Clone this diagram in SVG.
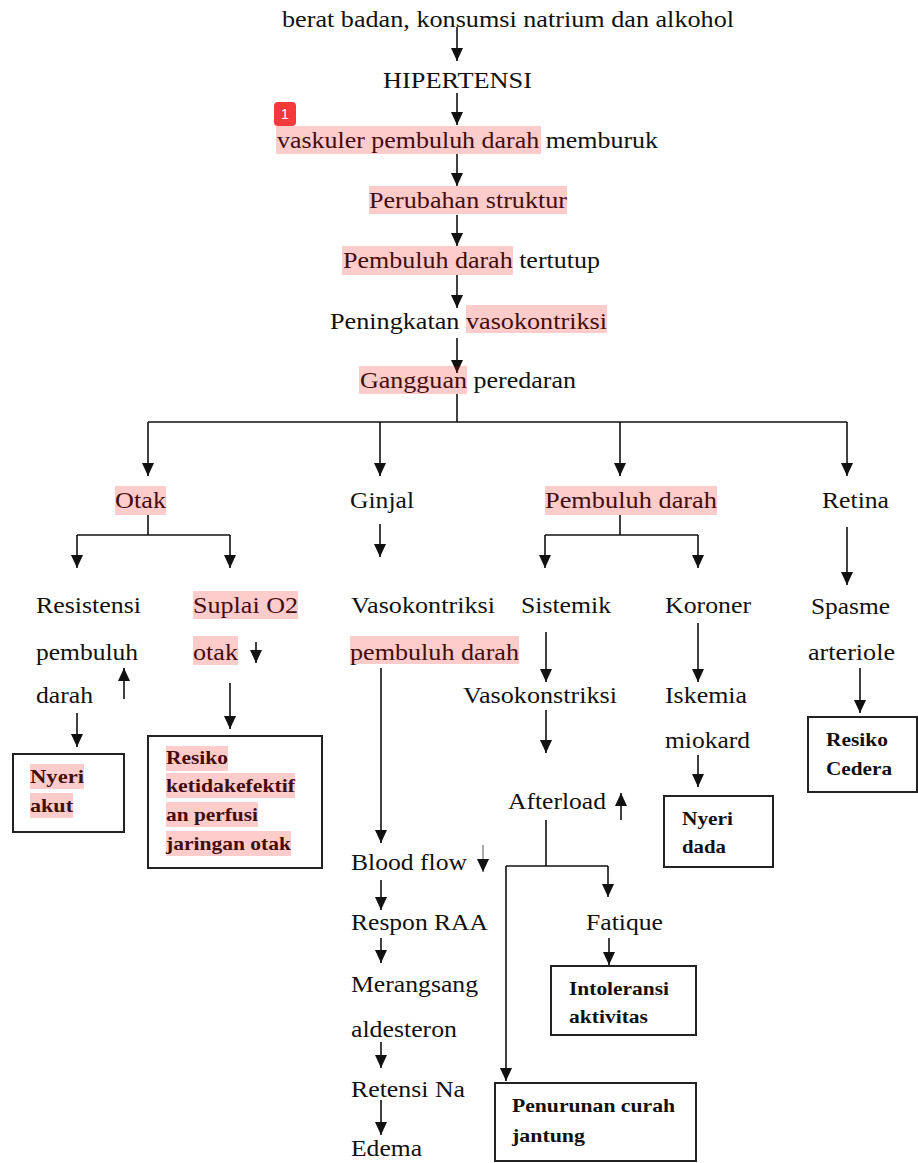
<svg xmlns="http://www.w3.org/2000/svg" width="918" height="1163" viewBox="0 0 918 1163">
<style>
.r{font-size:24px}
.b{font-size:19px;font-weight:bold}
.hl{fill:#ff0000;fill-opacity:0.2}
.ln{fill:none;stroke:#111;stroke-width:1.6}
.thin{fill:none;stroke:#555;stroke-width:1}
.box{fill:none;stroke:#222;stroke-width:2}
</style>
<defs>
<marker id="ah" viewBox="0 0 13 12" markerWidth="13" markerHeight="12" refX="13" refY="6" orient="auto" markerUnits="userSpaceOnUse">
<path d="M0,0 L13,6 L0,12 z" fill="#111"/>
</marker>
</defs>
<rect width="918" height="1163" fill="#fff"/>

<g id="connectors">
<line class="ln" x1="457" y1="27" x2="457" y2="61" marker-end="url(#ah)"/>
<line class="ln" x1="457" y1="93" x2="457" y2="125" marker-end="url(#ah)"/>
<line class="ln" x1="457" y1="154" x2="457" y2="186" marker-end="url(#ah)"/>
<line class="ln" x1="457" y1="215" x2="457" y2="246" marker-end="url(#ah)"/>
<line class="ln" x1="457" y1="275" x2="457" y2="308" marker-end="url(#ah)"/>
<line class="ln" x1="457" y1="338" x2="457" y2="373" marker-end="url(#ah)"/>
<polyline class="ln" points="457,394 457,422"/>
<line class="ln" x1="148" y1="422" x2="847" y2="422"/>
<line class="ln" x1="148" y1="422" x2="148" y2="476" marker-end="url(#ah)"/>
<line class="ln" x1="380" y1="422" x2="380" y2="476" marker-end="url(#ah)"/>
<line class="ln" x1="620" y1="422" x2="620" y2="476" marker-end="url(#ah)"/>
<line class="ln" x1="847" y1="422" x2="847" y2="476" marker-end="url(#ah)"/>
<polyline class="ln" points="148,515 148,535"/>
<line class="ln" x1="77" y1="535" x2="230" y2="535"/>
<line class="ln" x1="77" y1="535" x2="77" y2="568" marker-end="url(#ah)"/>
<line class="ln" x1="230" y1="535" x2="230" y2="568" marker-end="url(#ah)"/>
<line class="ln" x1="124" y1="699" x2="124" y2="668" marker-end="url(#ah)"/>
<line class="ln" x1="256" y1="642" x2="256" y2="663" marker-end="url(#ah)"/>
<line class="ln" x1="77" y1="713" x2="77" y2="747" marker-end="url(#ah)"/>
<line class="ln" x1="230" y1="683" x2="230" y2="729" marker-end="url(#ah)"/>
<line class="ln" x1="380" y1="524" x2="380" y2="557" marker-end="url(#ah)"/>
<line class="ln" x1="381" y1="668" x2="381" y2="843" marker-end="url(#ah)"/>
<line class="thin" x1="483" y1="845" x2="483" y2="872" marker-end="url(#ah)"/>
<line class="ln" x1="381" y1="880" x2="381" y2="910" marker-end="url(#ah)"/>
<line class="ln" x1="381" y1="938" x2="381" y2="963" marker-end="url(#ah)"/>
<line class="ln" x1="381" y1="1042" x2="381" y2="1068" marker-end="url(#ah)"/>
<line class="ln" x1="381" y1="1100" x2="381" y2="1135" marker-end="url(#ah)"/>
<polyline class="ln" points="620,515 620,535"/>
<line class="ln" x1="545" y1="535" x2="698" y2="535"/>
<line class="ln" x1="545" y1="535" x2="545" y2="568" marker-end="url(#ah)"/>
<line class="ln" x1="698" y1="535" x2="698" y2="568" marker-end="url(#ah)"/>
<line class="ln" x1="546" y1="632" x2="546" y2="682" marker-end="url(#ah)"/>
<line class="ln" x1="546" y1="710" x2="546" y2="753" marker-end="url(#ah)"/>
<line class="ln" x1="621" y1="820" x2="621" y2="793" marker-end="url(#ah)"/>
<polyline class="ln" points="546,820 546,866"/>
<line class="ln" x1="506" y1="866" x2="608" y2="866"/>
<line class="ln" x1="608" y1="866" x2="608" y2="897" marker-end="url(#ah)"/>
<line class="ln" x1="506" y1="866" x2="506" y2="1081" marker-end="url(#ah)"/>
<line class="ln" x1="609" y1="938" x2="609" y2="965" marker-end="url(#ah)"/>
<line class="ln" x1="698" y1="623" x2="698" y2="682" marker-end="url(#ah)"/>
<line class="ln" x1="698" y1="755" x2="698" y2="787" marker-end="url(#ah)"/>
<line class="ln" x1="847" y1="527" x2="847" y2="585" marker-end="url(#ah)"/>
<line class="ln" x1="860" y1="668" x2="860" y2="713" marker-end="url(#ah)"/>
</g>

<g font-family="'Liberation Serif', serif" fill="#111">
<g id="n-top"><text class="r" x="282" y="27" textLength="452" lengthAdjust="spacingAndGlyphs">berat badan, konsumsi natrium dan alkohol</text></g>
<g id="n-hipertensi"><text class="r" x="383" y="88" textLength="149" lengthAdjust="spacingAndGlyphs">HIPERTENSI</text></g>
<g id="n-vaskuler"><text class="r" x="277" y="148" textLength="381" lengthAdjust="spacingAndGlyphs">vaskuler pembuluh darah memburuk</text><rect class="hl" x="276" y="126" width="265" height="28"/></g>
<g id="n-perubahan"><text class="r" x="369" y="208" textLength="198" lengthAdjust="spacingAndGlyphs">Perubahan struktur</text><rect class="hl" x="369" y="186" width="198" height="28"/></g>
<g id="n-tertutup"><text class="r" x="343" y="268" textLength="257" lengthAdjust="spacingAndGlyphs">Pembuluh darah tertutup</text><rect class="hl" x="342" y="246" width="171" height="29"/></g>
<g id="n-peningkatan"><text class="r" x="330" y="329" textLength="277" lengthAdjust="spacingAndGlyphs">Peningkatan vasokontriksi</text><rect class="hl" x="466" y="305" width="141" height="28"/></g>
<g id="n-gangguan"><text class="r" x="360" y="388" textLength="216" lengthAdjust="spacingAndGlyphs">Gangguan peredaran</text><rect class="hl" x="359" y="366" width="108" height="28"/></g>

<g id="n-otak"><text class="r" x="115" y="508" textLength="51" lengthAdjust="spacingAndGlyphs">Otak</text><rect class="hl" x="115" y="486" width="51" height="29"/></g>
<g id="n-ginjal"><text class="r" x="350" y="508" textLength="64" lengthAdjust="spacingAndGlyphs">Ginjal</text></g>
<g id="n-pembuluh"><text class="r" x="545" y="508" textLength="172" lengthAdjust="spacingAndGlyphs">Pembuluh darah</text><rect class="hl" x="545" y="486" width="172" height="29"/></g>
<g id="n-retina"><text class="r" x="822" y="508" textLength="67" lengthAdjust="spacingAndGlyphs">Retina</text></g>

<g id="n-resistensi">
<text class="r" x="36" y="613" textLength="105" lengthAdjust="spacingAndGlyphs">Resistensi</text>
<text class="r" x="36" y="660" textLength="102" lengthAdjust="spacingAndGlyphs">pembuluh</text>
<text class="r" x="36" y="703" textLength="57" lengthAdjust="spacingAndGlyphs">darah</text>
</g>
<g id="n-suplai">
<text class="r" x="193" y="613" textLength="105" lengthAdjust="spacingAndGlyphs">Suplai O2</text>
<text class="r" x="193" y="660" textLength="45" lengthAdjust="spacingAndGlyphs">otak</text>
<rect class="hl" x="193" y="591" width="105" height="28"/>
<rect class="hl" x="193" y="636" width="45" height="29"/>
</g>
<g id="n-vasokontriksi">
<text class="r" x="351" y="613" textLength="144" lengthAdjust="spacingAndGlyphs">Vasokontriksi</text>
<text class="r" x="350" y="660" textLength="169" lengthAdjust="spacingAndGlyphs">pembuluh darah</text>
<rect class="hl" x="350" y="636" width="169" height="28"/>
</g>
<g id="n-sistemik"><text class="r" x="521" y="613" textLength="90" lengthAdjust="spacingAndGlyphs">Sistemik</text></g>
<g id="n-vasokonstriksi"><text class="r" x="463" y="703" textLength="154" lengthAdjust="spacingAndGlyphs">Vasokonstriksi</text></g>
<g id="n-afterload"><text class="r" x="508" y="809" textLength="98" lengthAdjust="spacingAndGlyphs">Afterload</text></g>
<g id="n-koroner"><text class="r" x="665" y="613" textLength="86" lengthAdjust="spacingAndGlyphs">Koroner</text></g>
<g id="n-iskemia">
<text class="r" x="665" y="703" textLength="82" lengthAdjust="spacingAndGlyphs">Iskemia</text>
<text class="r" x="665" y="748" textLength="85" lengthAdjust="spacingAndGlyphs">miokard</text>
</g>
<g id="n-spasme">
<text class="r" x="811" y="614" textLength="79" lengthAdjust="spacingAndGlyphs">Spasme</text>
<text class="r" x="808" y="660" textLength="87" lengthAdjust="spacingAndGlyphs">arteriole</text>
</g>

<g id="n-bloodflow"><text class="r" x="351" y="870" textLength="116" lengthAdjust="spacingAndGlyphs">Blood flow</text></g>
<g id="n-respon"><text class="r" x="351" y="930" textLength="137" lengthAdjust="spacingAndGlyphs">Respon RAA</text></g>
<g id="n-merangsang">
<text class="r" x="351" y="992" textLength="127" lengthAdjust="spacingAndGlyphs">Merangsang</text>
<text class="r" x="351" y="1037" textLength="106" lengthAdjust="spacingAndGlyphs">aldesteron</text>
</g>
<g id="n-retensi"><text class="r" x="351" y="1097" textLength="114" lengthAdjust="spacingAndGlyphs">Retensi Na</text></g>
<g id="n-edema"><text class="r" x="351" y="1156" textLength="71" lengthAdjust="spacingAndGlyphs">Edema</text></g>
<g id="n-fatique"><text class="r" x="586" y="930" textLength="77" lengthAdjust="spacingAndGlyphs">Fatique</text></g>

<g id="n-nyeri-akut">
<rect class="box" x="13" y="754" width="111" height="78"/>
<text class="b" x="30" y="783" textLength="54" lengthAdjust="spacingAndGlyphs">Nyeri</text>
<text class="b" x="30" y="812" textLength="43" lengthAdjust="spacingAndGlyphs">akut</text>
<rect class="hl" x="30" y="764" width="54" height="25"/>
<rect class="hl" x="30" y="793" width="43" height="25"/>
</g>
<g id="n-resiko-perfusi">
<rect class="box" x="148" y="736" width="174" height="132"/>
<text class="b" x="166" y="764" textLength="62" lengthAdjust="spacingAndGlyphs">Resiko</text>
<text class="b" x="166" y="792" textLength="129" lengthAdjust="spacingAndGlyphs">ketidakefektif</text>
<text class="b" x="166" y="821" textLength="92" lengthAdjust="spacingAndGlyphs">an perfusi</text>
<text class="b" x="166" y="850" textLength="125" lengthAdjust="spacingAndGlyphs">jaringan otak</text>
<rect class="hl" x="166" y="746" width="62" height="25"/>
<rect class="hl" x="166" y="773" width="129" height="25"/>
<rect class="hl" x="166" y="802" width="92" height="25"/>
<rect class="hl" x="166" y="831" width="125" height="25"/>
</g>
<g id="n-nyeri-dada">
<rect class="box" x="664" y="796" width="109" height="71"/>
<text class="b" x="682" y="825" textLength="51" lengthAdjust="spacingAndGlyphs">Nyeri</text>
<text class="b" x="682" y="853" textLength="44" lengthAdjust="spacingAndGlyphs">dada</text>
</g>
<g id="n-resiko-cedera">
<rect class="box" x="808" y="717" width="109" height="75"/>
<text class="b" x="826" y="746" textLength="62" lengthAdjust="spacingAndGlyphs">Resiko</text>
<text class="b" x="826" y="775" textLength="66" lengthAdjust="spacingAndGlyphs">Cedera</text>
</g>
<g id="n-intoleransi">
<rect class="box" x="551" y="966" width="145" height="69"/>
<text class="b" x="569" y="995" textLength="100" lengthAdjust="spacingAndGlyphs">Intoleransi</text>
<text class="b" x="569" y="1023" textLength="79" lengthAdjust="spacingAndGlyphs">aktivitas</text>
</g>
<g id="n-penurunan">
<rect class="box" x="495" y="1083" width="201" height="78"/>
<text class="b" x="512" y="1112" textLength="163" lengthAdjust="spacingAndGlyphs">Penurunan curah</text>
<text class="b" x="512" y="1142" textLength="73" lengthAdjust="spacingAndGlyphs">jantung</text>
</g>
</g>

<g id="badge">
<rect x="274" y="102" width="22" height="24" rx="4" fill="#f23a3a"/>
<text x="285" y="119" text-anchor="middle" font-family="'Liberation Sans', sans-serif" font-size="14" fill="#fff">1</text>
</g>
</svg>
